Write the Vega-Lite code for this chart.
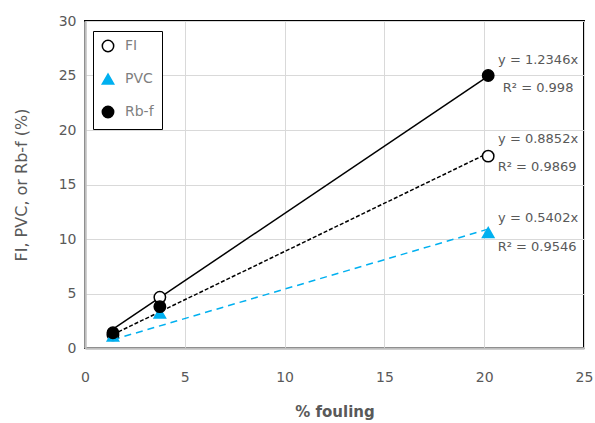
{
  "$schema": "https://vega.github.io/schema/vega-lite/v6.json",
  "width": 499,
  "height": 327,
  "autosize": {"type": "none"},
  "padding": {"left": 85, "top": 21, "right": 11, "bottom": 75},
  "background": "white",
  "config": {
    "font": "DejaVu Sans",
    "view": {"stroke": "black", "strokeWidth": 2},
    "legend": {
      "strokeColor": "black",
      "strokeWidth": 1,
      "fillColor": "white",
      "padding": 8,
      "rowPadding": 16,
      "labelFontSize": 14,
      "labelColor": "#7f7f7f",
      "labelOffset": 10,
      "symbolSize": 130,
      "symbolStrokeWidth": 1.5
    }
  },
  "datasets": {
    "points": [
      {"series": "FI", "x": 1.4, "y": 1.2},
      {"series": "FI", "x": 3.75, "y": 4.65},
      {"series": "FI", "x": 20.2, "y": 17.6},
      {"series": "PVC", "x": 1.4, "y": 1.1},
      {"series": "PVC", "x": 3.75, "y": 3.2},
      {"series": "PVC", "x": 20.2, "y": 10.6},
      {"series": "Rb-f", "x": 1.4, "y": 1.4},
      {"series": "Rb-f", "x": 3.75, "y": 3.8},
      {"series": "Rb-f", "x": 20.2, "y": 25.0}
    ],
    "trends": [
      {"series": "FI", "x": 1.4, "y": 1.24},
      {"series": "FI", "x": 20.2, "y": 17.88},
      {"series": "PVC", "x": 1.4, "y": 0.76},
      {"series": "PVC", "x": 20.2, "y": 10.91},
      {"series": "Rb-f", "x": 1.4, "y": 1.73},
      {"series": "Rb-f", "x": 20.2, "y": 24.94}
    ],
    "labels": [
      {"label": "y = 1.2346x", "x": 22.7, "y": 26.4},
      {"label": "R² = 0.998", "x": 22.7, "y": 23.85},
      {"label": "y = 0.8852x", "x": 22.7, "y": 19.17},
      {"label": "R² = 0.9869", "x": 22.65, "y": 16.6},
      {"label": "y = 0.5402x", "x": 22.7, "y": 11.93},
      {"label": "R² = 0.9546", "x": 22.65, "y": 9.27}
    ]
  },
  "layer": [
    {
      "data": {"name": "trends"},
      "transform": [{"filter": "datum.series === 'PVC'"}],
      "mark": {"type": "line", "color": "#00B0F0", "strokeWidth": 1.5, "strokeDash": [7, 5]},
      "encoding": {
        "x": {
          "field": "x", "type": "quantitative",
          "scale": {"domain": [0, 25], "nice": false},
          "axis": {
            "values": [0, 5, 10, 15, 20, 25],
            "title": "% fouling",
            "titleFontSize": 15,
            "titleColor": "#595959",
            "titleFontWeight": "bold",
            "titlePadding": 20,
            "labelFontSize": 14,
            "labelColor": "#595959",
            "labelPadding": 22,
            "ticks": false,
            "domainColor": "#bfbfbf",
            "domainWidth": 2.5,
            "gridColor": "#d9d9d9",
            "gridWidth": 1,
            "labelFlush": false
          }
        },
        "y": {
          "field": "y", "type": "quantitative",
          "scale": {"domain": [0, 30], "nice": false},
          "axis": {
            "values": [0, 5, 10, 15, 20, 25, 30],
            "title": "FI, PVC, or Rb-f (%)",
            "titleFontSize": 16,
            "titleColor": "#595959",
            "titleFontWeight": "normal",
            "titlePadding": 29,
            "labelFontSize": 14,
            "labelColor": "#595959",
            "labelPadding": 9,
            "ticks": false,
            "domainColor": "#bfbfbf",
            "domainWidth": 2.5,
            "gridColor": "#d9d9d9",
            "gridWidth": 1,
            "labelFlush": false
          }
        }
      }
    },
    {
      "data": {"name": "trends"},
      "transform": [{"filter": "datum.series === 'FI'"}],
      "mark": {"type": "line", "color": "black", "strokeWidth": 1.5, "strokeDash": [4, 2]},
      "encoding": {
        "x": {"field": "x", "type": "quantitative"},
        "y": {"field": "y", "type": "quantitative"}
      }
    },
    {
      "data": {"name": "trends"},
      "transform": [{"filter": "datum.series === 'Rb-f'"}],
      "mark": {"type": "line", "color": "black", "strokeWidth": 1.5},
      "encoding": {
        "x": {"field": "x", "type": "quantitative"},
        "y": {"field": "y", "type": "quantitative"}
      }
    },
    {
      "data": {"name": "points"},
      "mark": {"type": "point", "filled": true, "opacity": 1, "strokeWidth": 1.5, "size": 130},
      "encoding": {
        "x": {"field": "x", "type": "quantitative"},
        "y": {"field": "y", "type": "quantitative"},
        "shape": {
          "field": "series", "type": "nominal",
          "scale": {"domain": ["FI", "PVC", "Rb-f"], "range": ["circle", "triangle-up", "circle"]},
          "legend": {"title": null, "orient": "none", "legendX": 8, "legendY": 10}
        },
        "fill": {
          "field": "series", "type": "nominal",
          "scale": {"domain": ["FI", "PVC", "Rb-f"], "range": ["white", "#00B0F0", "black"]},
          "legend": {"title": null, "orient": "none", "legendX": 8, "legendY": 10}
        },
        "stroke": {
          "field": "series", "type": "nominal",
          "scale": {"domain": ["FI", "PVC", "Rb-f"], "range": ["black", "#00B0F0", "black"]},
          "legend": {"title": null, "orient": "none", "legendX": 8, "legendY": 10}
        }
      }
    },
    {
      "data": {"name": "labels"},
      "mark": {"type": "text", "fontSize": 13, "color": "#595959", "align": "center", "baseline": "middle"},
      "encoding": {
        "x": {"field": "x", "type": "quantitative"},
        "y": {"field": "y", "type": "quantitative"},
        "text": {"field": "label"}
      }
    }
  ]
}
